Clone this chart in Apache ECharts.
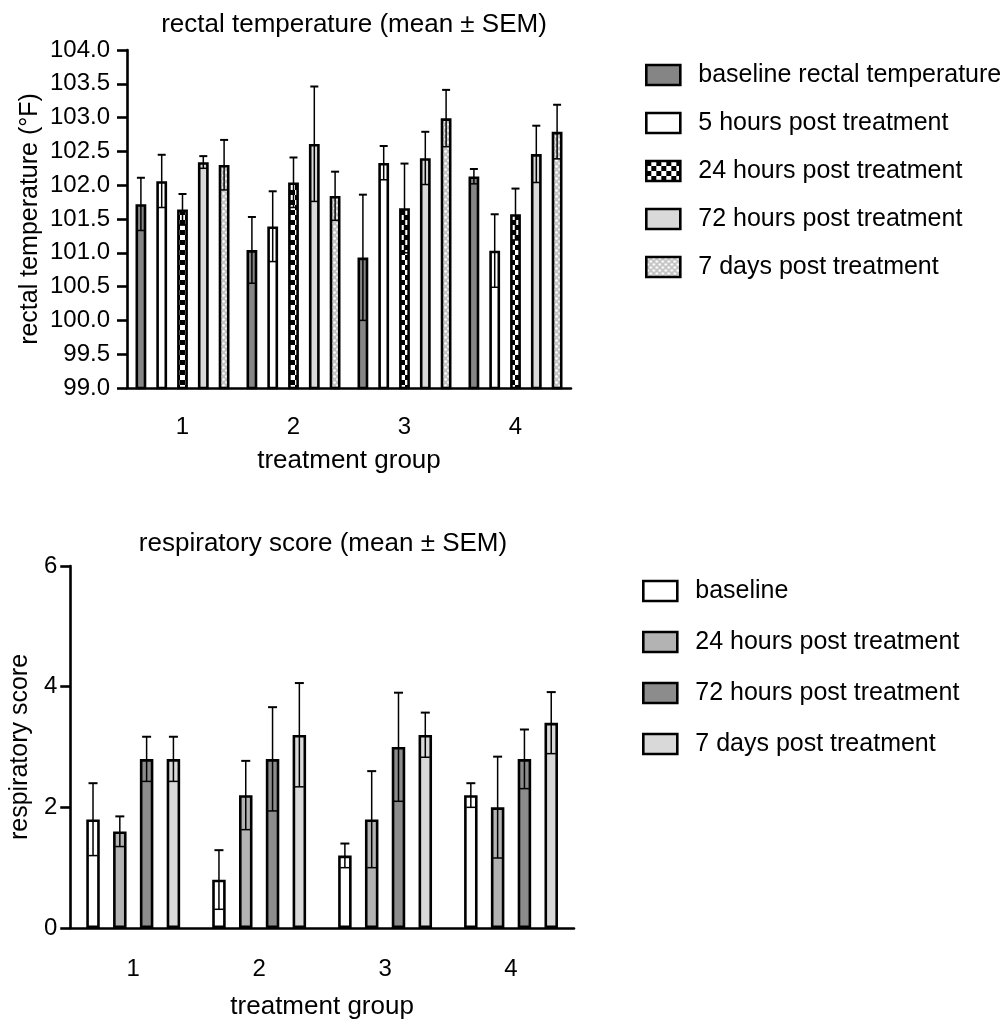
<!DOCTYPE html>
<html>
<head>
<meta charset="utf-8">
<script src="https://cdn.jsdelivr.net/npm/echarts@6/dist/echarts.min.js"></script>
<style>
  body { margin: 0; background: #fff; }
  #temp { position: absolute; left: 0; top: 0; width: 1003px; height: 490px; }
  #resp { position: absolute; left: 0; top: 490px; width: 1003px; height: 536px; }
</style>
</head>
<body>
<div id="temp"></div>
<div id="resp"></div>
<script>
// treatment groups
const groups = ["1", "2", "3", "4"];

// rectal temperature, mean and SEM per group
const tempBaseline = [101.72, 101.04, 100.93, 102.13];
const tempBaselineSem = [0.39, 0.49, 0.93, 0.11];
const temp5h = [102.06, 101.39, 102.33, 101.03];
const temp5hSem = [0.39, 0.52, 0.25, 0.54];
const temp24h = [101.64, 102.04, 101.66, 101.57];
const temp24hSem = [0.23, 0.37, 0.66, 0.38];
const temp72h = [102.34, 102.61, 102.40, 102.46];
const temp72hSem = [0.09, 0.85, 0.39, 0.42];
const temp7d = [102.30, 101.84, 102.99, 102.79];
const temp7dSem = [0.37, 0.36, 0.42, 0.40];
const tempTicks = [99, 104, 0.5];

// respiratory score, mean and SEM per group
const respBaseline = [1.8, 0.8, 1.2, 2.2];
const respBaselineSem = [0.6, 0.49, 0.2, 0.2];
const resp24h = [1.6, 2.2, 1.8, 2.0];
const resp24hSem = [0.25, 0.57, 0.8, 0.84];
const resp72h = [2.8, 2.8, 3.0, 2.8];
const resp72hSem = [0.37, 0.86, 0.9, 0.49];
const resp7d = [2.8, 3.2, 3.2, 3.4];
const resp7dSem = [0.37, 0.86, 0.37, 0.51];
const respTicks = [0, 6, 2];

const FONT = "'Liberation Sans', Arial, Helvetica, sans-serif";

function checker() {
  const c = document.createElement("canvas");
  c.width = 10; c.height = 10;
  const g = c.getContext("2d");
  g.fillStyle = "#fff"; g.fillRect(0, 0, 10, 10);
  g.fillStyle = "#000"; g.fillRect(0, 0, 5, 5); g.fillRect(5, 5, 5, 5);
  return { image: c, repeat: "repeat" };
}
function dots() {
  const c = document.createElement("canvas");
  c.width = 6; c.height = 6;
  const g = c.getContext("2d");
  g.fillStyle = "#c4c4c4"; g.fillRect(0, 0, 6, 6);
  g.fillStyle = "#fff";
  g.beginPath(); g.arc(1.5, 1.5, 1.3, 0, Math.PI * 2); g.fill();
  g.beginPath(); g.arc(4.5, 4.5, 1.3, 0, Math.PI * 2); g.fill();
  return { image: c, repeat: "repeat" };
}

// builds bars + error bars for one panel
function buildPanel(cfg) {
  const n = cfg.series.length;
  const step = cfg.barW + cfg.gapPx;
  const series = [];
  cfg.series.forEach((s) => {
    series.push({
      name: s.name,
      type: "bar",
      barWidth: cfg.barW,
      barGap: (cfg.gapPx / cfg.barW * 100) + "%",
      data: s.mean,
      itemStyle: { color: s.color, borderColor: "#000", borderWidth: 2.6 },
      emphasis: { disabled: true },
      z: 2
    });
  });
  cfg.series.forEach((s, k) => {
    const off = (k - (n - 1) / 2) * step;
    series.push({
      type: "custom",
      z: 5,
      silent: true,
      data: s.mean.map((m, i) => [i, m - s.sem[i], m + s.sem[i]]),
      renderItem: function (params, api) {
        const lo = api.coord([api.value(0), api.value(1)]);
        const hi = api.coord([api.value(0), api.value(2)]);
        const x = lo[0] + off;
        const cw = cfg.cap / 2;
        return {
          type: "group",
          children: [
            { type: "line", shape: { x1: x, y1: lo[1], x2: x, y2: hi[1] }, style: { stroke: "#000", lineWidth: 1.5 } },
            { type: "line", shape: { x1: x - cw, y1: hi[1], x2: x + cw, y2: hi[1] }, style: { stroke: "#000", lineWidth: 2 } },
            { type: "line", shape: { x1: x - cw, y1: lo[1], x2: x + cw, y2: lo[1] }, style: { stroke: "#000", lineWidth: 1.5 } }
          ]
        };
      }
    });
  });

  return {
    animation: false,
    textStyle: { fontFamily: FONT },
    title: {
      text: cfg.title,
      left: cfg.titleX, top: cfg.titleY,
      textAlign: "center",
      textStyle: { fontFamily: FONT, fontWeight: "normal", fontSize: 26, color: "#000" }
    },
    legend: {
      orient: "vertical",
      left: cfg.legendX, top: cfg.legendY,
      itemWidth: 34, itemHeight: 20,
      itemGap: cfg.legendGap,
      icon: "rect",
      selectedMode: false,
      data: cfg.series.map(s => s.name),
      itemStyle: { borderColor: "#000", borderWidth: 2.6 },
      textStyle: { fontFamily: FONT, fontSize: 25, color: "#000", lineHeight: 26, padding: [0, 0, 0, 13] }
    },
    grid: cfg.grid,
    xAxis: {
      type: "category",
      data: groups,
      name: "treatment group",
      nameLocation: "middle",
      nameGap: cfg.xNameGap,
      nameTextStyle: { fontFamily: FONT, fontSize: 26, color: "#000" },
      axisLine: { lineStyle: { color: "#000", width: 2.6 } },
      axisTick: { alignWithLabel: true, length: 10, lineStyle: { color: "#000", width: 2.6 } },
      axisLabel: { fontFamily: FONT, fontSize: 24, color: "#000", margin: cfg.xLabelMargin }
    },
    yAxis: {
      type: "value",
      min: cfg.ticks[0], max: cfg.ticks[1], interval: cfg.ticks[2],
      name: cfg.yName,
      nameLocation: "middle",
      nameRotate: 90,
      nameGap: cfg.yNameGap,
      nameTextStyle: { fontFamily: FONT, fontSize: 25, color: "#000" },
      axisLine: { show: true, lineStyle: { color: "#000", width: 2.6 } },
      axisTick: { show: true, length: 10, lineStyle: { color: "#000", width: 2.6 } },
      axisLabel: { fontFamily: FONT, fontSize: 24, color: "#000", margin: cfg.yLabelMargin, formatter: cfg.fmt },
      splitLine: { show: false }
    },
    series: series
  };
}

const tempChart = echarts.init(document.getElementById("temp"));
tempChart.setOption(buildPanel({
  title: "rectal temperature (mean \u00b1 SEM)",
  titleX: 349, titleY: 7,
  legendX: 640, legendY: 57, legendGap: 22,
  grid: { left: 127, width: 444, top: 50, height: 338 },
  xNameGap: 60, xLabelMargin: 27,
  yName: "rectal temperature (\u00b0F)", yNameGap: 84,
  yLabelMargin: 17,
  ticks: tempTicks,
  fmt: v => v.toFixed(1),
  barW: 10.8, gapPx: 10, cap: 8,
  series: [
    { name: "baseline rectal temperature", mean: tempBaseline, sem: tempBaselineSem, color: "#858585" },
    { name: "5 hours post treatment", mean: temp5h, sem: temp5hSem, color: "#ffffff" },
    { name: "24 hours post treatment", mean: temp24h, sem: temp24hSem, color: checker() },
    { name: "72 hours post treatment", mean: temp72h, sem: temp72hSem, color: "#d9d9d9" },
    { name: "7 days post treatment", mean: temp7d, sem: temp7dSem, color: dots() }
  ]
}));

const respChart = echarts.init(document.getElementById("resp"));
respChart.setOption(buildPanel({
  title: "respiratory score (mean \u00b1 SEM)",
  titleX: 318, titleY: 36,
  legendX: 637, legendY: 83, legendGap: 25,
  grid: { left: 70, width: 504, top: 76, height: 362 },
  xNameGap: 66, xLabelMargin: 29,
  yName: "respiratory score", yNameGap: 34,
  yLabelMargin: 13,
  ticks: respTicks,
  fmt: v => String(v),
  barW: 13.5, gapPx: 13.3, cap: 9,
  series: [
    { name: "baseline", mean: respBaseline, sem: respBaselineSem, color: "#ffffff" },
    { name: "24 hours post treatment", mean: resp24h, sem: resp24hSem, color: "#b3b3b3" },
    { name: "72 hours post treatment", mean: resp72h, sem: resp72hSem, color: "#8c8c8c" },
    { name: "7 days post treatment", mean: resp7d, sem: resp7dSem, color: "#d9d9d9" }
  ]
}));
</script>
</body>
</html>
